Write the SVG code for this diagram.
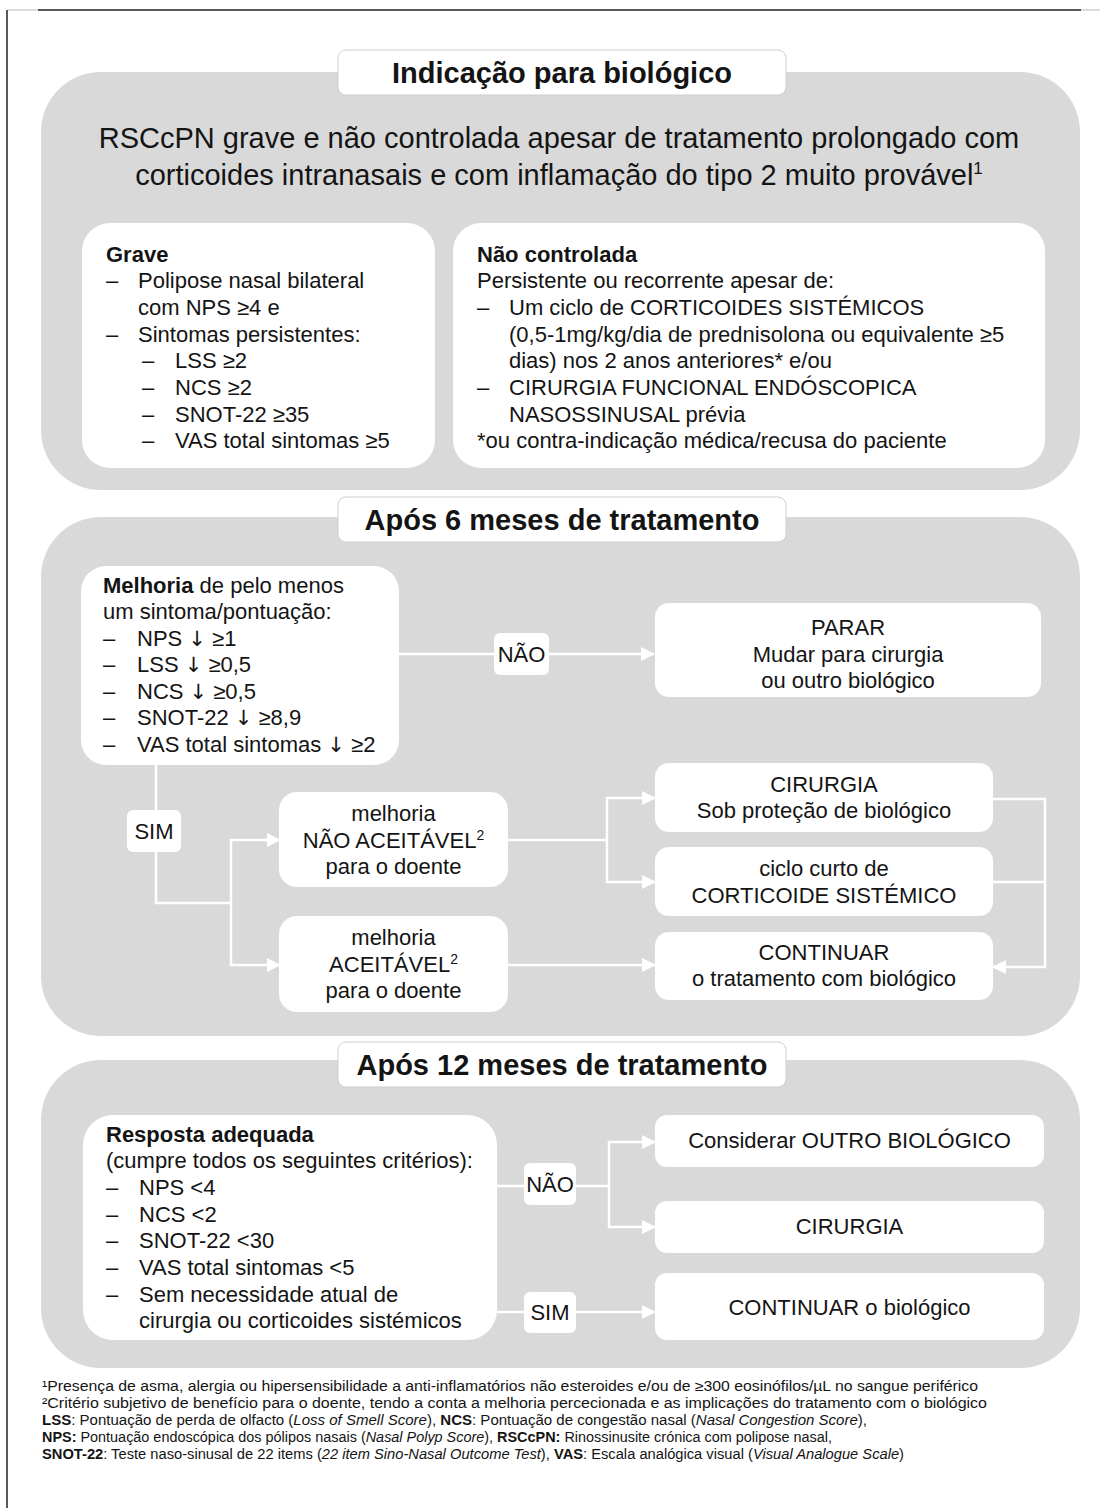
<svg xmlns="http://www.w3.org/2000/svg" width="1100" height="1508" viewBox="0 0 1100 1508">
<style>
text{font-family:"Liberation Sans",Arial,sans-serif;fill:#141414;}
.t22{font-size:22px;}
.b{font-weight:bold;}
.c{text-anchor:middle;}
.hd{font-size:29px;font-weight:bold;text-anchor:middle;}
.ti{font-size:29px;text-anchor:middle;}
.fn{font-size:14px;}
.ar{font-family:"DejaVu Sans",sans-serif;font-size:21px;}
.panel{fill:#d9d9d9;}
.box{fill:#ffffff;}
.hbox{fill:#ffffff;stroke:#cfcfcf;stroke-width:1;}
.lbl{fill:#ffffff;}
.con{fill:none;stroke:#ffffff;stroke-width:2.5;}
.arr{fill:none;stroke:#ffffff;stroke-width:2.5;marker-end:url(#ah);}
</style>
<defs>
<marker id="ah" markerUnits="userSpaceOnUse" markerWidth="14" markerHeight="14" refX="13" refY="7" orient="auto">
<path d="M0,0 L14,7 L0,14 z" fill="#ffffff"/>
</marker>
</defs>
<rect x="0" y="0" width="1100" height="1508" fill="#ffffff"/>
<g id="frame">
<line x1="7" y1="10" x2="38" y2="10" stroke="#d0d0d0" stroke-width="1.5"/>
<line x1="38" y1="10" x2="1081" y2="10" stroke="#222" stroke-width="1.5"/>
<line x1="1081" y1="10" x2="1100" y2="10" stroke="#d0d0d0" stroke-width="1.5"/>
<line x1="7" y1="10" x2="7" y2="1508" stroke="#222" stroke-width="1.5"/>
</g>
<g id="panels">
<rect class="panel" x="41" y="72" width="1039" height="418" rx="60"/>
<rect class="panel" x="41" y="517" width="1039" height="519" rx="60"/>
<rect class="panel" x="41" y="1060" width="1039" height="308" rx="60"/>
</g>
<g id="connectors">
<path class="arr" d="M399,654 H654"/>
<path class="con" d="M156,765 V903 H231"/>
<path class="arr" d="M231,903 V840 H280"/>
<path class="arr" d="M231,903 V965 H280"/>
<path class="con" d="M508,840 H607"/>
<path class="arr" d="M607,840 V798 H655"/>
<path class="arr" d="M607,840 V882 H655"/>
<path class="arr" d="M508,965 H655"/>
<path class="con" d="M993,882 H1045"/>
<path class="arr" d="M993,799 H1045 V967 H993"/>
<path class="con" d="M497,1186 H609"/>
<path class="arr" d="M609,1186 V1142 H655"/>
<path class="arr" d="M609,1186 V1227 H655"/>
<path class="arr" d="M497,1312 H655"/>
</g>
<g id="header1">
<rect class="hbox" x="338" y="50" width="448" height="45" rx="8"/>
<text class="hd" x="562" y="83">Indicação para biológico</text>
</g>
<g id="title">
<text class="ti" x="559" y="148">RSCcPN grave e não controlada apesar de tratamento prolongado com</text>
<text class="ti" x="559" y="185">corticoides intranasais e com inflamação do tipo 2 muito provável<tspan font-size="17" dy="-11">1</tspan></text>
</g>
<g id="grave">
<rect class="box" x="82" y="223" width="353" height="245" rx="28"/>
<text class="t22 b" x="106" y="262">Grave</text>
<text class="t22" x="106" y="288">–</text><text class="t22" x="138" y="288">Polipose nasal bilateral</text>
<text class="t22" x="138" y="315">com NPS ≥4 e</text>
<text class="t22" x="106" y="342">–</text><text class="t22" x="138" y="342">Sintomas persistentes:</text>
<text class="t22" x="142" y="368">–</text><text class="t22" x="175" y="368">LSS ≥2</text>
<text class="t22" x="142" y="395">–</text><text class="t22" x="175" y="395">NCS ≥2</text>
<text class="t22" x="142" y="422">–</text><text class="t22" x="175" y="422">SNOT-22 ≥35</text>
<text class="t22" x="142" y="448">–</text><text class="t22" x="175" y="448">VAS total sintomas ≥5</text>
</g>
<g id="nao-controlada">
<rect class="box" x="453" y="223" width="592" height="245" rx="28"/>
<text class="t22 b" x="477" y="262">Não controlada</text>
<text class="t22" x="477" y="288">Persistente ou recorrente apesar de:</text>
<text class="t22" x="477" y="315">–</text><text class="t22" x="509" y="315">Um ciclo de CORTICOIDES SISTÉMICOS</text>
<text class="t22" x="509" y="342">(0,5-1mg/kg/dia de prednisolona ou equivalente ≥5</text>
<text class="t22" x="509" y="368">dias) nos 2 anos anteriores* e/ou</text>
<text class="t22" x="477" y="395">–</text><text class="t22" x="509" y="395">CIRURGIA FUNCIONAL ENDÓSCOPICA</text>
<text class="t22" x="509" y="422">NASOSSINUSAL prévia</text>
<text class="t22" x="477" y="448">*ou contra-indicação médica/recusa do paciente</text>
</g>
<g id="header2">
<rect class="hbox" x="338" y="497" width="448" height="45" rx="8"/>
<text class="hd" x="562" y="530">Após 6 meses de tratamento</text>
</g>
<g id="melhoria">
<rect class="box" x="81" y="566" width="318" height="199" rx="25"/>
<text class="t22" x="103" y="593"><tspan font-weight="bold">Melhoria</tspan> de pelo menos</text>
<text class="t22" x="103" y="619">um sintoma/pontuação:</text>
<text class="t22" x="103" y="646">–</text><text class="t22" x="137" y="646">NPS <tspan class="ar">↓</tspan> ≥1</text>
<text class="t22" x="103" y="672">–</text><text class="t22" x="137" y="672">LSS <tspan class="ar">↓</tspan> ≥0,5</text>
<text class="t22" x="103" y="699">–</text><text class="t22" x="137" y="699">NCS <tspan class="ar">↓</tspan> ≥0,5</text>
<text class="t22" x="103" y="725">–</text><text class="t22" x="137" y="725">SNOT-22 <tspan class="ar">↓</tspan> ≥8,9</text>
<text class="t22" x="103" y="752">–</text><text class="t22" x="137" y="752">VAS total sintomas <tspan class="ar">↓</tspan> ≥2</text>
</g>
<g id="label-nao-6">
<rect class="lbl" x="494" y="633" width="55" height="42" rx="6"/>
<text class="t22 c" x="521.5" y="662">NÃO</text>
</g>
<g id="parar">
<rect class="box" x="655" y="603" width="386" height="94" rx="14"/>
<text class="t22 c" x="848" y="635">PARAR</text>
<text class="t22 c" x="848" y="662">Mudar para cirurgia</text>
<text class="t22 c" x="848" y="688">ou outro biológico</text>
</g>
<g id="label-sim-6">
<rect class="lbl" x="127" y="810" width="54" height="42" rx="6"/>
<text class="t22 c" x="154" y="839">SIM</text>
</g>
<g id="nao-aceitavel">
<rect class="box" x="279" y="792" width="229" height="95" rx="18"/>
<text class="t22 c" x="393.5" y="821">melhoria</text>
<text class="t22 c" x="393.5" y="848">NÃO ACEITÁVEL<tspan font-size="14" dy="-8">2</tspan></text>
<text class="t22 c" x="393.5" y="874">para o doente</text>
</g>
<g id="aceitavel">
<rect class="box" x="279" y="916" width="229" height="96" rx="18"/>
<text class="t22 c" x="393.5" y="945">melhoria</text>
<text class="t22 c" x="393.5" y="972">ACEITÁVEL<tspan font-size="14" dy="-8">2</tspan></text>
<text class="t22 c" x="393.5" y="998">para o doente</text>
</g>
<g id="cirurgia-6">
<rect class="box" x="655" y="763" width="338" height="69" rx="14"/>
<text class="t22 c" x="824" y="792">CIRURGIA</text>
<text class="t22 c" x="824" y="818">Sob proteção de biológico</text>
</g>
<g id="ciclo">
<rect class="box" x="655" y="847" width="338" height="69" rx="14"/>
<text class="t22 c" x="824" y="876">ciclo curto de</text>
<text class="t22 c" x="824" y="903">CORTICOIDE SISTÉMICO</text>
</g>
<g id="continuar-6">
<rect class="box" x="655" y="932" width="338" height="68" rx="14"/>
<text class="t22 c" x="824" y="960">CONTINUAR</text>
<text class="t22 c" x="824" y="986">o tratamento com biológico</text>
</g>
<g id="header3">
<rect class="hbox" x="338" y="1042" width="448" height="45" rx="8"/>
<text class="hd" x="562" y="1075">Após 12 meses de tratamento</text>
</g>
<g id="resposta">
<rect class="box" x="83" y="1115" width="414" height="225" rx="30"/>
<text class="t22 b" x="106" y="1142">Resposta adequada</text>
<text class="t22" x="106" y="1168">(cumpre todos os seguintes critérios):</text>
<text class="t22" x="106" y="1195">–</text><text class="t22" x="139" y="1195">NPS &lt;4</text>
<text class="t22" x="106" y="1222">–</text><text class="t22" x="139" y="1222">NCS &lt;2</text>
<text class="t22" x="106" y="1248">–</text><text class="t22" x="139" y="1248">SNOT-22 &lt;30</text>
<text class="t22" x="106" y="1275">–</text><text class="t22" x="139" y="1275">VAS total sintomas &lt;5</text>
<text class="t22" x="106" y="1302">–</text><text class="t22" x="139" y="1302">Sem necessidade atual de</text>
<text class="t22" x="139" y="1328">cirurgia ou corticoides sistémicos</text>
</g>
<g id="label-nao-12">
<rect class="lbl" x="524" y="1163" width="52" height="42" rx="6"/>
<text class="t22 c" x="550" y="1192">NÃO</text>
</g>
<g id="label-sim-12">
<rect class="lbl" x="524" y="1292" width="52" height="41" rx="6"/>
<text class="t22 c" x="550" y="1320">SIM</text>
</g>
<g id="outro-biologico">
<rect class="box" x="655" y="1115" width="389" height="52" rx="12"/>
<text class="t22 c" x="849.5" y="1148">Considerar OUTRO BIOLÓGICO</text>
</g>
<g id="cirurgia-12">
<rect class="box" x="655" y="1201" width="389" height="52" rx="12"/>
<text class="t22 c" x="849.5" y="1234">CIRURGIA</text>
</g>
<g id="continuar-12">
<rect class="box" x="655" y="1273" width="389" height="67" rx="12"/>
<text class="t22 c" x="849.5" y="1315">CONTINUAR o biológico</text>
</g>
<g id="footnotes">
<text class="fn" x="42" y="1391" textLength="936" lengthAdjust="spacingAndGlyphs">¹Presença de asma, alergia ou hipersensibilidade a anti-inflamatórios não esteroides e/ou de ≥300 eosinófilos/µL no sangue periférico</text>
<text class="fn" x="42" y="1408" textLength="945" lengthAdjust="spacingAndGlyphs">²Critério subjetivo de benefício para o doente, tendo a conta a melhoria percecionada e as implicações do tratamento com o biológico</text>
<text class="fn" x="42" y="1425" textLength="825" lengthAdjust="spacingAndGlyphs"><tspan font-weight="bold">LSS</tspan>: Pontuação de perda de olfacto (<tspan font-style="italic">Loss of Smell Score</tspan>), <tspan font-weight="bold">NCS</tspan>: Pontuação de congestão nasal (<tspan font-style="italic">Nasal Congestion Score</tspan>),</text>
<text class="fn" x="42" y="1442" textLength="790" lengthAdjust="spacingAndGlyphs"><tspan font-weight="bold">NPS:</tspan> Pontuação endoscópica dos pólipos nasais (<tspan font-style="italic">Nasal Polyp Score</tspan>), <tspan font-weight="bold">RSCcPN:</tspan> Rinossinusite crónica com polipose nasal,</text>
<text class="fn" x="42" y="1459" textLength="862" lengthAdjust="spacingAndGlyphs"><tspan font-weight="bold">SNOT-22</tspan>: Teste naso-sinusal de 22 items (<tspan font-style="italic">22 item Sino-Nasal Outcome Test</tspan>), <tspan font-weight="bold">VAS</tspan>: Escala analógica visual (<tspan font-style="italic">Visual Analogue Scale</tspan>)</text>
</g>
</svg>
